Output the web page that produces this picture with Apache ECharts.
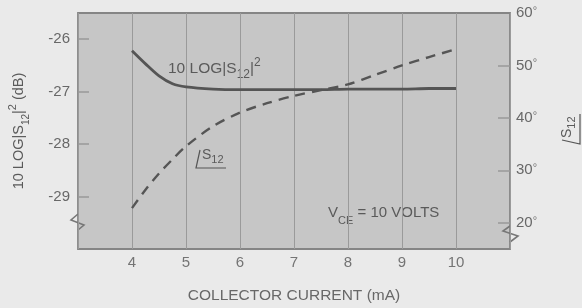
<!DOCTYPE html>
<html>
<head>
<meta charset="utf-8">
<script src="https://cdn.jsdelivr.net/npm/echarts@6/dist/echarts.min.js"></script>
<style>
  html, body { margin: 0; padding: 0; background: #eaeaea; }
  #chart { width: 582px; height: 308px; }
</style>
</head>
<body>
<div id="chart"></div>
<script>
// collector current (mA)
const current = [4, 4.25, 4.5, 4.75, 5, 5.5, 6, 6.5, 7, 7.5, 8, 8.5, 9, 9.5, 10];
// 10 LOG|S12|^2 (dB), left axis
const gainDb = [-26.22, -26.47, -26.7, -26.85, -26.91, -26.95, -26.96, -26.96, -26.96, -26.96, -26.95, -26.95, -26.95, -26.94, -26.94];
// angle of S12 (degrees), right axis
const phaseDeg = [22.8, 26.3, 29.4, 32.1, 34.6, 38.4, 41.0, 42.8, 44.2, 45.3, 46.4, 48.2, 50.0, 51.6, 53.1];

const xTicks = [4, 5, 6, 7, 8, 9, 10];
const dbTicks = [-29, -28, -27, -26];
const degTicks = [20, 30, 40, 50, 60];
const degTickMarks = [20, 30, 40, 50];

const FONT = "'Liberation Sans', Arial, sans-serif";
const TEXT = '#5a5a5a';
const LINE = '#555555';

const chart = echarts.init(document.getElementById('chart'));

// little "angle" symbol: slanted stroke + underline, with S12 above
function angleLabel(x, y, rotation) {
  return {
    type: 'group',
    x: x,
    y: y,
    rotation: rotation,
    children: [
      {
        type: 'polyline',
        shape: { points: [[4, -18], [0, 0], [30, 0]] },
        style: { stroke: LINE, lineWidth: 1.2, fill: null }
      },
      {
        type: 'text',
        x: 6,
        y: -3,
        style: {
          text: '{s|S}{b|12}',
          align: 'left',
          verticalAlign: 'bottom',
          fill: TEXT,
          rich: {
            s: { fontSize: 14, lineHeight: 19, fontFamily: FONT, fill: TEXT },
            b: { fontSize: 11, lineHeight: 11, verticalAlign: 'bottom', fontFamily: FONT, fill: TEXT }
          }
        }
      }
    ]
  };
}

const option = {
  backgroundColor: '#eaeaea',
  animation: false,
  textStyle: { fontFamily: FONT },
  grid: {
    left: 78,
    right: 72,
    top: 13,
    bottom: 59,
    outerBoundsMode: 'none',
    show: true,
    backgroundColor: '#c6c6c6',
    borderColor: '#858585',
    borderWidth: 1.8
  },
  xAxis: {
    type: 'value',
    min: 3,
    max: 11,
    interval: 1,
    axisLine: { show: false },
    axisTick: { show: false },
    splitLine: { show: true, lineStyle: { color: '#9a9a9a', width: 1 } },
    axisLabel: {
      customValues: xTicks,
      margin: 6,
      fontSize: 15,
      color: '#747474',
      fontFamily: FONT
    },
    name: 'COLLECTOR CURRENT (mA)',
    nameLocation: 'middle',
    nameGap: 39,
    nameTextStyle: { fontSize: 15.5, color: '#686868', fontFamily: FONT }
  },
  yAxis: [
    {
      type: 'value',
      position: 'left',
      min: -30,
      max: -25.5,
      interval: 1,
      axisLine: { show: false },
      splitLine: { show: false },
      axisTick: {
        show: true,
        inside: true,
        length: 11,
        customValues: dbTicks,
        lineStyle: { color: '#999', width: 1.5 }
      },
      axisLabel: {
        customValues: dbTicks,
        margin: 8,
        fontSize: 15,
        color: '#686868',
        fontFamily: FONT
      },
      name: '{t|10 LOG|S}{b|12}{t||}{p|2}{t| (dB)}',
      nameLocation: 'middle',
      nameRotate: 90,
      nameGap: 47,
      nameTextStyle: {
        color: TEXT,
        rich: {
          t: { fontSize: 14.5, lineHeight: 24, fontFamily: FONT, color: TEXT },
          b: { fontSize: 10, lineHeight: 10, verticalAlign: 'bottom', fontFamily: FONT, color: TEXT },
          p: { fontSize: 11, lineHeight: 11, verticalAlign: 'top', fontFamily: FONT, color: TEXT }
        }
      }
    },
    {
      type: 'value',
      position: 'right',
      min: 15,
      max: 60,
      axisLine: { show: false },
      splitLine: { show: false },
      axisTick: {
        show: true,
        inside: true,
        length: 12,
        customValues: degTickMarks,
        lineStyle: { color: '#999', width: 1.5 }
      },
      axisLabel: {
        customValues: degTicks,
        margin: 6,
        fontSize: 15,
        color: '#686868',
        fontFamily: FONT,
        formatter: (v) => v + '{d|°}',
        rich: {
          d: { fontSize: 11, lineHeight: 11, verticalAlign: 'top', color: '#777', fontFamily: FONT }
        }
      }
    }
  ],
  series: [
    {
      name: '10 LOG|S12|2',
      type: 'line',
      yAxisIndex: 0,
      data: current.map((x, i) => [x, gainDb[i]]),
      smooth: 0.3,
      symbol: 'none',
      lineStyle: { color: LINE, width: 2.8 }
    },
    {
      name: 'S12 angle',
      type: 'line',
      yAxisIndex: 1,
      data: current.map((x, i) => [x, phaseDeg[i]]),
      smooth: 0.3,
      symbol: 'none',
      lineStyle: { color: LINE, width: 2.4, type: [10, 7] }
    }
  ],
  graphic: [
    // axis breaks
    {
      type: 'polyline',
      shape: { points: [[78, 214], [71, 220], [84, 225], [78, 230]] },
      style: { stroke: '#777', lineWidth: 1.6, fill: null }
    },
    {
      type: 'polyline',
      shape: { points: [[510, 226], [503, 231], [518, 236], [510, 242]] },
      style: { stroke: '#777', lineWidth: 1.6, fill: null }
    },
    // curve labels
    {
      type: 'text',
      x: 168,
      y: 69,
      style: {
        text: '{t|10 LOG|S}{b|12}{t||}{p|2}',
        align: 'left',
        verticalAlign: 'middle',
        fill: TEXT,
        rich: {
          t: { fontSize: 15.5, lineHeight: 24, fontFamily: FONT, fill: TEXT },
          b: { fontSize: 12, lineHeight: 12, verticalAlign: 'bottom', fontFamily: FONT, fill: TEXT },
          p: { fontSize: 12, lineHeight: 12, verticalAlign: 'top', fontFamily: FONT, fill: TEXT }
        }
      }
    },
    angleLabel(196, 168, 0),
    angleLabel(580, 144, Math.PI / 2),
    {
      type: 'text',
      x: 328,
      y: 213,
      style: {
        text: '{t|V}{b|CE}{t| = 10 VOLTS}',
        align: 'left',
        verticalAlign: 'middle',
        fill: TEXT,
        rich: {
          t: { fontSize: 15, lineHeight: 26, fontFamily: FONT, fill: TEXT },
          b: { fontSize: 11, lineHeight: 11, verticalAlign: 'bottom', fontFamily: FONT, fill: TEXT }
        }
      }
    }
  ]
};

chart.setOption(option);
</script>
</body>
</html>
